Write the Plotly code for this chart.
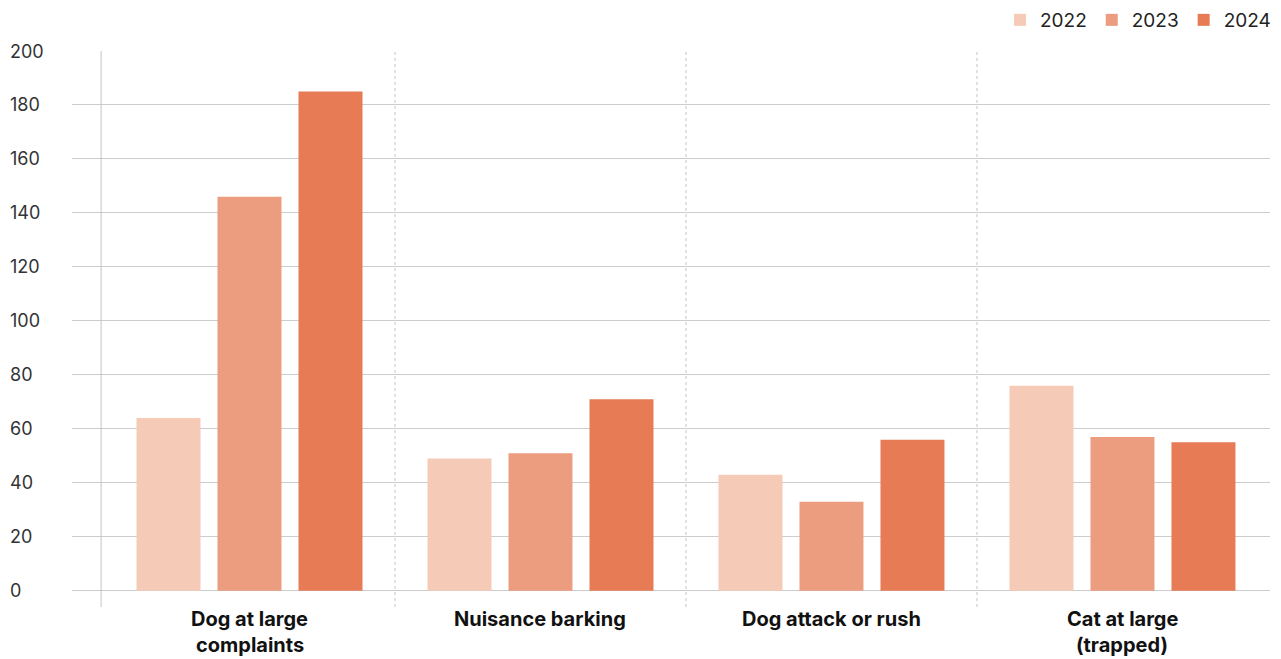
import plotly.graph_objects as go

categories = ["Dog at large<br>complaints", "Nuisance barking", "Dog attack or rush", "Cat at large<br>(trapped)"]
years = ["2022", "2023", "2024"]
values_2022 = [64, 49, 43, 76]
values_2023 = [146, 51, 33, 57]
values_2024 = [185, 71, 56, 55]
y_ticks = [0, 20, 40, 60, 80, 100, 120, 140, 160, 180, 200]

colors = ["#F5CAB7", "#ED9D7F", "#E67B56"]
series = [values_2022, values_2023, values_2024]

FONT = "Inter"
# page body has an 8px margin; work in figure pixels = reference pixels - 8
OFF = 8
W, H = 1281 - OFF, 659 - OFF
L, R, T, B = 72 - OFF, 11, 51 - OFF, 52
plot_w = W - L - R
plot_h = H - T - B

fig = go.Figure()
for name, vals, c in zip(years, series, colors):
    fig.add_trace(go.Bar(x=categories, y=vals, name=name, marker=dict(color=c, line=dict(width=0))))

shapes = []
shapes.append(dict(type="line", xref="x", yref="paper", x0=-0.51, x1=-0.51, y0=0, y1=1,
                   line=dict(color="#c4c4c4", width=1)))
for xs in [0.5, 1.5, 2.5]:
    shapes.append(dict(type="line", xref="x", yref="paper", x0=xs, x1=xs, y0=0, y1=1,
                       line=dict(color="#c4c4c4", width=1, dash="dot")))

annotations = []
for v in y_ticks:
    annotations.append(dict(xref="paper", yref="y", x=(8 - 72) / plot_w, y=v, text=str(v),
                            xanchor="left", yanchor="middle", showarrow=False,
                            font=dict(family=FONT, size=18, color="#333333")))
for cat in categories:
    lines = cat.split("<br>")
    for i, ln in enumerate(lines):
        py = 619 + 26 * i
        annotations.append(dict(xref="x", yref="paper", x=cat, y=(659 - 52 - py) / plot_h,
                                text=ln, xanchor="center", yanchor="middle",
                                showarrow=False,
                                font=dict(family=FONT, size=20, weight=700, color="#111111")))

fig.update_layout(
    width=W, height=H,
    margin=dict(l=L, r=R, t=T, b=B, autoexpand=False),
    plot_bgcolor="white", paper_bgcolor="white",
    barmode="group", bargap=0.165, bargroupgap=0.21,
    font=dict(family=FONT, size=18, color="#333333"),
    xaxis=dict(range=[-0.61, 3.507], showticklabels=False, showgrid=False, zeroline=False,
               showline=False, ticks=""),
    yaxis=dict(range=[-6, 200], tickvals=y_ticks, showticklabels=False, showgrid=True,
               gridcolor="#cccccc", gridwidth=1, zeroline=False, showline=False, ticks=""),
    legend=dict(orientation="h", x=1 + 6 / plot_w, xanchor="right",
                y=1 + (51 - 20) / plot_h, yanchor="middle",
                font=dict(family=FONT, size=19, color="#222222"), traceorder="normal",
                bgcolor="rgba(0,0,0,0)"),
    shapes=shapes,
    annotations=annotations,
)

fig.write_html("out.html")
